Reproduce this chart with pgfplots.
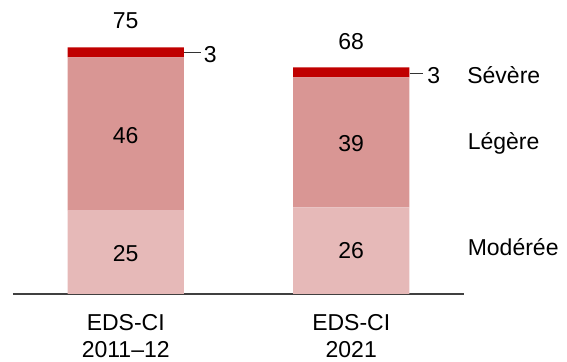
\documentclass[border=0pt]{standalone}
\usepackage{fontspec}
\setmainfont{Liberation Sans}
\usepackage{pgfplots}
\pgfplotsset{compat=1.18}
\definecolor{sevcol}{HTML}{C00000}
\definecolor{legcol}{HTML}{D99694}
\definecolor{modcol}{HTML}{E6B9B8}
\begin{document}
\begin{tikzpicture}[every node/.append style={font=\fontsize{11.5}{13.3}\selectfont}]
\begin{axis}[
  name=ax,
  scale only axis,
  width=225.5pt, height=133.33pt,
  xmin=-0.5, xmax=1.5, ymin=0, ymax=80,
  ybar stacked, bar width=58pt,
  axis x line=bottom, axis y line=none,
  axis line style={-, draw=black!75, line width=0.7pt},
  xtick={0,1},
  xticklabels={EDS-CI\\2011–12, EDS-CI\\2021},
  xticklabel style={align=center, anchor=north, inner sep=0pt, yshift=-10pt},
  major tick length=0pt,
  ytick=\empty,
  clip=false,
]
\addplot[fill=modcol, draw=none] coordinates {(0,25) (1,26)};
\addplot[fill=legcol, draw=none] coordinates {(0,46) (1,39)};
\addplot[fill=sevcol, draw=none] coordinates {(0,3) (1,3)};
\coordinate (l25) at (axis cs:0,9.7);
\coordinate (l26) at (axis cs:1,10.5);
\coordinate (l46) at (axis cs:0,45.2);
\coordinate (l39) at (axis cs:1,42.7);
\coordinate (l75) at (axis cs:0,79.7);
\coordinate (l68) at (axis cs:1,73.2);
\coordinate (a1) at (axis cs:0.2575,72.5);
\coordinate (b1) at (axis cs:0.334,72.5);
\coordinate (t1) at (axis cs:0.345,69.5);
\coordinate (a2) at (axis cs:1.2585,66.2);
\coordinate (b2) at (axis cs:1.318,66.2);
\coordinate (t2) at (axis cs:1.336,63.2);
\coordinate (ls) at (axis cs:1.513,63.2);
\coordinate (ll) at (axis cs:1.515,43.4);
\coordinate (lm) at (axis cs:1.515,11.5);
\end{axis}
\node[anchor=base, inner sep=0pt] at (l25) {25};
\node[anchor=base, inner sep=0pt] at (l26) {26};
\node[anchor=base, inner sep=0pt] at (l46) {46};
\node[anchor=base, inner sep=0pt] at (l39) {39};
\node[anchor=base, inner sep=0pt] at (l75) {75};
\node[anchor=base, inner sep=0pt] at (l68) {68};
\draw[black!80, line width=0.6pt] (a1) -- (b1);
\node[anchor=base west, inner sep=0pt] at (t1) {3};
\draw[black!80, line width=0.6pt] (a2) -- (b2);
\node[anchor=base west, inner sep=0pt] at (t2) {3};
\node[anchor=base west, inner sep=0pt] at (ls) {Sévère};
\node[anchor=base west, inner sep=0pt] at (ll) {Légère};
\node[anchor=base west, inner sep=0pt] at (lm) {Modérée};
\pgfresetboundingbox
\useasboundingbox ([xshift=-6.5pt,yshift=-34pt]ax.south west) rectangle ([xshift=51.5pt,yshift=13.65pt]ax.north east);
\end{tikzpicture}
\end{document}
